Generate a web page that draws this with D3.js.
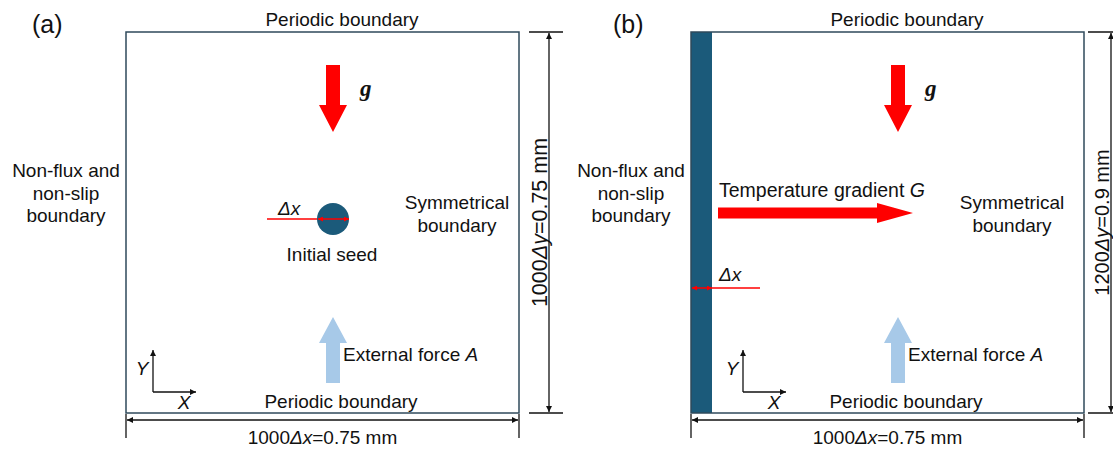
<!DOCTYPE html>
<html>
<head>
<meta charset="utf-8">
<script src="https://cdn.jsdelivr.net/npm/d3@7"></script>
<style>
  body { margin: 0; background: #fff; }
  svg text { font-family: "Liberation Sans", Arial, sans-serif; fill: #111; }
</style>
</head>
<body>
<svg width="1113" height="450"></svg>
<script>
// labels and grid sizes for the two panels
const panelLetters = ["(a)", "(b)"];
const gridCellsX = [1000, 1000];
const gridCellsY = [1000, 1200];
const domainMM_X = ["0.75", "0.75"];
const domainMM_Y = ["0.75", "0.9"];
const topLabel = "Periodic boundary";
const bottomLabel = "Periodic boundary";
const wallLabel = ["Non-flux and", "non-slip", "boundary"];
const symLabel = ["Symmetrical", "boundary"];
const seedLabel = "Initial seed";
const gradientLabel = ["Temperature gradient ", "G"];
const forceLabel = ["External force ", "A"];
const gravityLabel = "g";
const dxLabel = "Δx";
const axisNames = ["X", "Y"];

const vizobject = {
    boxLeft: [126, 691],
    boxTop: 32,
    boxW: 393,
    boxH: 381,
    edge: "#2f4a5b",
    seed: "#1b5a7a",
    red: "#ff0000",
    blue: "#a7c9e8"
};

const svg = d3.select("svg");
const defs = svg.append("defs");

function addMarker(id, color, w, h) {
    defs.append("marker")
        .attr("id", id)
        .attr("viewBox", "0 0 10 10")
        .attr("refX", 10).attr("refY", 5)
        .attr("markerUnits", "userSpaceOnUse")
        .attr("markerWidth", w).attr("markerHeight", h)
        .attr("orient", "auto-start-reverse")
        .append("path")
        .attr("d", "M0,0 L10,5 L0,10 z")
        .attr("fill", color);
}
addMarker("blk", "#111", 10, 6);
addMarker("red", vizobject.red, 6, 5);

function label(g, x, y, txt, size, anchor) {
    return g.append("text")
        .attr("x", x).attr("y", y)
        .attr("text-anchor", anchor || "middle")
        .style("font-size", (size || 19) + "px")
        .text(txt);
}

// block arrow pointing along +x in local coords, length L, shaft half width sw, head half width hw, head length hl
function blockArrow(g, L, sw, hw, hl) {
    const pts = [[0, -sw], [L - hl, -sw], [L - hl, -hw], [L, 0], [L - hl, hw], [L - hl, sw], [0, sw]];
    return g.append("path").attr("d", d3.line()(pts) + "Z");
}

function drawPanel(i) {
    const left = vizobject.boxLeft[i];
    const top = vizobject.boxTop;
    const W = vizobject.boxW, H = vizobject.boxH;
    const xScale = d3.scaleLinear().domain([0, gridCellsX[i]]).range([left, left + W]);
    const yScale = d3.scaleLinear().domain([0, gridCellsY[i]]).range([top + H, top]);
    const g = svg.append("g");

    // panel letter
    label(g, i == 0 ? 32 : 613, 33, panelLetters[i], 25, "start");

    // wall for panel b
    if (i == 1) {
        g.append("rect")
            .attr("x", xScale(0)).attr("y", yScale(gridCellsY[i]))
            .attr("width", 21).attr("height", H)
            .attr("fill", vizobject.seed);
    }

    // simulation domain
    g.append("rect")
        .attr("x", xScale(0)).attr("y", yScale(gridCellsY[i]))
        .attr("width", xScale(gridCellsX[i]) - xScale(0))
        .attr("height", yScale(0) - yScale(gridCellsY[i]))
        .attr("fill", "none")
        .attr("stroke", vizobject.edge)
        .attr("stroke-width", 1.5);

    label(g, left + 216, 26, topLabel);
    label(g, left + 215, 408, bottomLabel);

    // side texts
    wallLabel.forEach(function(t, k) {
        label(g, left - 60, 177 + k * 22.5, t);
    });
    const symX = i == 0 ? left + 331 : left + 321;
    symLabel.forEach(function(t, k) {
        label(g, symX, 209 + k * 22.5, t);
    });

    // gravity arrow
    const ax = left + 207;
    const garrow = g.append("g").attr("transform", "translate(" + ax + ",65) rotate(90)");
    blockArrow(garrow, 67, 7, 14, 27).attr("fill", vizobject.red);
    g.append("text")
        .attr("x", left + 234).attr("y", 96)
        .style("font-family", "'Liberation Serif', 'Times New Roman', serif")
        .style("font-size", "23px")
        .style("font-style", "italic")
        .style("font-weight", "bold")
        .text(gravityLabel);

    // external force arrow
    const farrow = g.append("g").attr("transform", "translate(" + ax + ",383) rotate(-90)");
    blockArrow(farrow, 66, 7, 14, 26).attr("fill", vizobject.blue);
    const ft = label(g, left + 217, 361, forceLabel[0], 19, "start");
    ft.append("tspan").style("font-style", "italic").text(forceLabel[1]);

    if (i == 0) {
        // seed
        g.append("circle")
            .attr("cx", 333).attr("cy", 219).attr("r", 16)
            .attr("fill", vizobject.seed);
        g.append("line")
            .attr("x1", 267).attr("y1", 219).attr("x2", 317).attr("y2", 219)
            .attr("stroke", vizobject.red).attr("stroke-width", 1.5);
        g.append("line")
            .attr("x1", 318).attr("y1", 219).attr("x2", 349).attr("y2", 219)
            .attr("stroke", vizobject.red).attr("stroke-width", 1.5)
            .attr("marker-start", "url(#red)").attr("marker-end", "url(#red)");
        g.append("text").attr("x", 278).attr("y", 215)
            .style("font-size", "19px").style("font-style", "italic").text(dxLabel);
        label(g, 332, 261, seedLabel);
    } else {
        // temperature gradient
        const tg = label(g, left + 28, 197, gradientLabel[0], 19.5, "start");
        tg.append("tspan").style("font-style", "italic").text(gradientLabel[1]);
        const tarrow = g.append("g").attr("transform", "translate(" + (left + 27) + ",213)");
        blockArrow(tarrow, 195, 5.5, 10, 36).attr("fill", vizobject.red);
        // dx marker on wall
        g.append("line")
            .attr("x1", left + 21).attr("y1", 288).attr("x2", left + 69).attr("y2", 288)
            .attr("stroke", vizobject.red).attr("stroke-width", 1.5);
        g.append("line")
            .attr("x1", left + 1).attr("y1", 288).attr("x2", left + 21).attr("y2", 288)
            .attr("stroke", vizobject.red).attr("stroke-width", 1.5)
            .attr("marker-start", "url(#red)").attr("marker-end", "url(#red)");
        g.append("text").attr("x", left + 28).attr("y", 281)
            .style("font-size", "19px").style("font-style", "italic").text(dxLabel);
    }

    // coordinate axes
    const ox = i == 0 ? 153 : 743, oy = 392;
    g.append("line").attr("x1", ox).attr("y1", oy).attr("x2", ox + 43).attr("y2", oy)
        .attr("stroke", "#111").attr("stroke-width", 1.3).attr("marker-end", "url(#blk)");
    g.append("line").attr("x1", ox).attr("y1", oy).attr("x2", ox).attr("y2", oy - 42)
        .attr("stroke", "#111").attr("stroke-width", 1.3).attr("marker-end", "url(#blk)");
    label(g, ox + 31, 409, axisNames[0]).style("font-style", "italic");
    label(g, ox - 11, 375, axisNames[1]).style("font-style", "italic");

    // bottom dimension
    const dy = 420;
    g.append("line").attr("x1", xScale(0) + 1).attr("y1", dy).attr("x2", xScale(gridCellsX[i]) - 1).attr("y2", dy)
        .attr("stroke", "#111").attr("stroke-width", 1.3)
        .attr("marker-start", "url(#blk)").attr("marker-end", "url(#blk)");
    [0, gridCellsX[i]].forEach(function(v) {
        g.append("line").attr("x1", xScale(v)).attr("x2", xScale(v)).attr("y1", 414).attr("y2", 438)
            .attr("stroke", "#111").attr("stroke-width", 1.3);
    });
    const bt = label(g, (xScale(0) + xScale(gridCellsX[i])) / 2, 444, gridCellsX[i], 19);
    bt.append("tspan").style("font-style", "italic").text("Δx");
    bt.append("tspan").text("=" + domainMM_X[i] + " mm");

    // right dimension
    const rx = xScale(gridCellsX[i]) + (i == 0 ? 30 : 27);
    g.append("line").attr("x1", rx).attr("x2", rx).attr("y1", yScale(gridCellsY[i]) + 1).attr("y2", yScale(0) - 1)
        .attr("stroke", "#111").attr("stroke-width", 1.3)
        .attr("marker-start", "url(#blk)").attr("marker-end", "url(#blk)");
    [0, gridCellsY[i]].forEach(function(v) {
        g.append("line").attr("y1", yScale(v)).attr("y2", yScale(v))
            .attr("x1", xScale(gridCellsX[i]) + (i == 0 ? 10 : 4)).attr("x2", rx + 14)
            .attr("stroke", "#111").attr("stroke-width", 1.3);
    });
    const rt = g.append("text")
        .attr("text-anchor", "middle")
        .attr("transform", "translate(" + (rx - 2) + "," + ((yScale(0) + yScale(gridCellsY[i])) / 2) + ")rotate(-90)")
        .style("font-size", (i == 0 ? 21.5 : 20) + "px")
        .text(gridCellsY[i]);
    rt.append("tspan").style("font-style", "italic").text("Δy");
    rt.append("tspan").text("=" + domainMM_Y[i] + " mm");
}

drawPanel(0);
drawPanel(1);
</script>
</body>
</html>
